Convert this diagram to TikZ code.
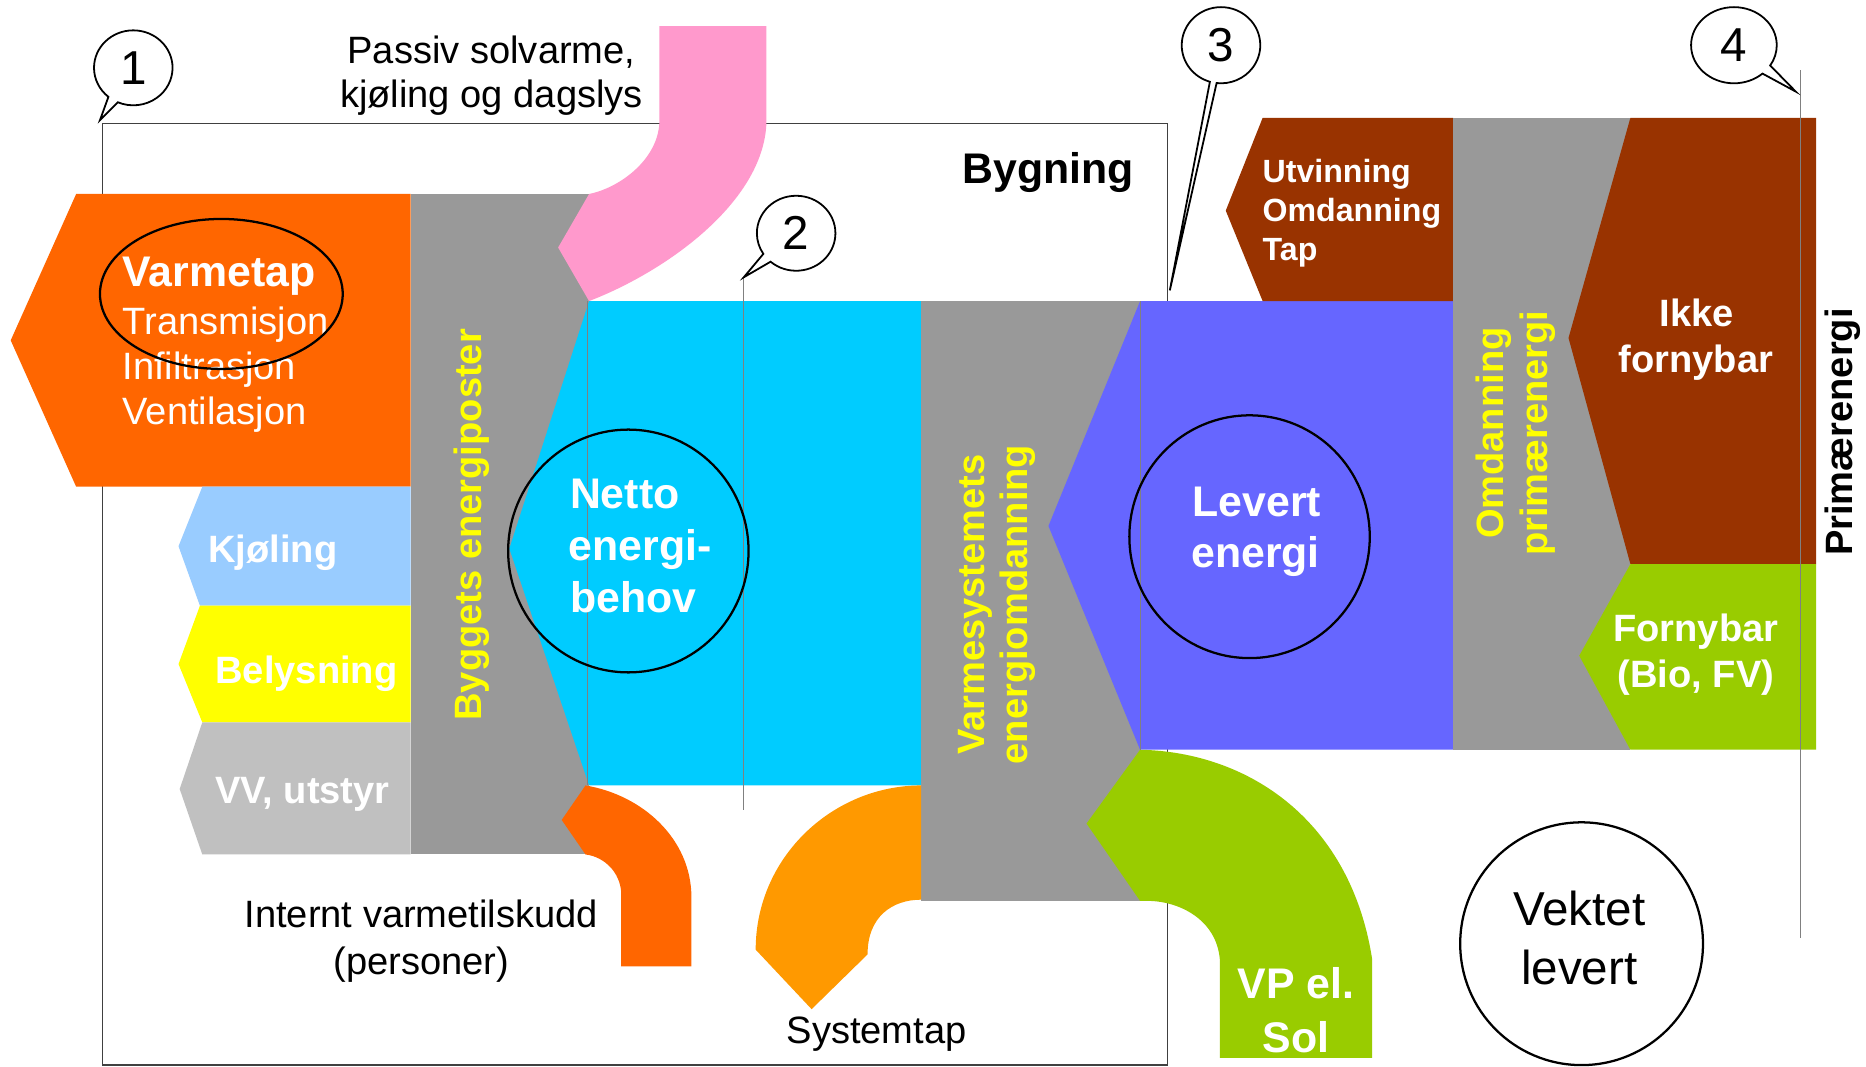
\documentclass[tikz,border=0pt]{standalone}
\usepackage{fontspec}
\setmainfont{Liberation Sans}
\usetikzlibrary{shapes.callouts,shapes.geometric}
\definecolor{cOrange}{HTML}{FF6600}
\definecolor{cGray}{HTML}{999999}
\definecolor{cPink}{HTML}{FF99CC}
\definecolor{cCyan}{HTML}{00CCFF}
\definecolor{cLBlue}{HTML}{99CCFF}
\definecolor{cYellow}{HTML}{FFFF00}
\definecolor{cLGray}{HTML}{C0C0C0}
\definecolor{cOrangeB}{HTML}{FF9900}
\definecolor{cBlue}{HTML}{6666FF}
\definecolor{cBrown}{HTML}{993300}
\definecolor{cGreen}{HTML}{99CC00}
\definecolor{cLine}{HTML}{404040}
\newcommand\myfs[1]{\fontsize{#1}{#1}\selectfont}
\tikzset{
  txt/.style={inner sep=0pt, outer sep=0pt},
  wbold/.style={txt, text=white, font=\bfseries\myfs{32}},
  wbig/.style={txt, text=white, font=\bfseries\myfs{36}},
  wreg/.style={txt, text=white, font=\myfs{32}},
  blk/.style={txt, text=black, font=\myfs{32}},
  ylw/.style={txt, text=cYellow, font=\bfseries\myfs{32}, rotate=90, anchor=base},
  ring/.style={ellipse, draw=black, line width=1.9pt, inner sep=0pt},
  bubble/.style={ellipse callout, draw=black, fill=white, line width=1.5pt, inner sep=0pt, font=\myfs{40}, callout pointer arc=16},
  thinline/.style={draw=gray, line width=0.8pt},
  boxline/.style={draw=cLine, line width=1.2pt},
}
\begin{document}
\begin{tikzpicture}[x=1pt,y=-1pt]
\useasboundingbox (0,0) rectangle (1568,896);
\fill[white] (0,0) rectangle (1568,896);

% building outline
\draw[boxline] (86,104) rectangle (981,895);

% heat loss and building energy items
\fill[cOrange] (345,163) -- (64,163) -- (9,286) -- (64,409) -- (345,409) -- cycle;
\fill[cLBlue] (345,409) -- (170,409) -- (150,459) -- (168,509) -- (345,509) -- cycle;
\fill[cYellow] (345,509) -- (168,509) -- (150,558) -- (170,607) -- (345,607) -- cycle;
\fill[cLGray] (345,607) -- (170,607) -- (151,663) -- (170,718) -- (345,718) -- cycle;
\fill[cGray] (345,163) rectangle (495,718);

% passive solar (pink)
\fill[cPink] (554,22) -- (644,22) -- (644,104) .. controls (641,170) and (560,228) .. (495,253)
  -- (469,208) -- (495,163) .. controls (520,158) and (552,135) .. (554,104) -- cycle;

% net energy (cyan)
\fill[cCyan] (495,253) -- (775,253) -- (775,660) -- (495,660) -- (428,461) -- cycle;

% internal gains (orange)
\fill[cOrange] (492,660) .. controls (540,668) and (581,705) .. (581,754) -- (581,812) -- (522,812)
  -- (522,750) .. controls (521,733) and (508,720) .. (492,718) -- (472,689) -- cycle;

% heating system column
\fill[cGray] (774,253) rectangle (958,757);

% system loss (orange)
\fill[cOrangeB] (774,660) .. controls (700,660) and (635,720) .. (635,798) -- (682,848) -- (729,802)
  .. controls (729,770) and (750,756) .. (774,756) -- cycle;

% delivered energy (blue)
\fill[cBlue] (958,253) -- (1221,253) -- (1221,630) -- (958,630) -- (881,442) -- cycle;

% heat pump / solar (green)
\fill[cGreen] (958,630) .. controls (1050,632) and (1135,690) .. (1153,806) -- (1153,889) -- (1025,889)
  -- (1025,806) .. controls (1022,772) and (990,757) .. (964,757) -- (958,757) -- (913,692) -- cycle;

% extraction (brown)
\fill[cBrown] (1061,99) -- (1221,99) -- (1221,253) -- (1061,253) -- (1030,177) -- cycle;

% primary energy column
\fill[cGray] (1221,99) rectangle (1370,630);
\fill[cBrown] (1370,99) -- (1526,99) -- (1526,474) -- (1370,474) -- (1318,284) -- cycle;
\fill[cGreen] (1370,474) -- (1526,474) -- (1526,630) -- (1370,630) -- (1327,551) -- cycle;

% thin lines
\coordinate (la1) at (494,253); \coordinate (la2) at (494,660);
\coordinate (lb1) at (958,253); \coordinate (lb2) at (958,630);
\coordinate (lc1) at (625,233); \coordinate (lc2) at (625,681);
\coordinate (ld1) at (1513,59); \coordinate (ld2) at (1513,788);
\draw[thinline] (la1) -- (la2);
\draw[thinline] (lb1) -- (lb2);
\draw[thinline] (lc1) -- (lc2);
\draw[thinline] (ld1) -- (ld2);

% texts
\node[blk, anchor=base] (ps1) at (413,53) {Passiv solvarme,};
\node[blk, anchor=base] (ps2) at (413,90) {kjøling og dagslys};

\node[wbig, anchor=base west] (vt1) at (103,241) {Varmetap};
\node[wreg, anchor=base west] (vt2) at (103,281) {Transmisjon};
\node[wreg, anchor=base west] (vt3) at (103,319) {Infiltrasjon};
\node[wreg, anchor=base west] (vt4) at (103,357) {Ventilasjon};

\node[wbold, anchor=base west] (kj) at (175,473) {Kjøling};
\node[wbold, anchor=base west] (be) at (181,574) {Belysning};
\node[wbold, anchor=base west] (vv) at (181,675) {VV, utstyr};

\node[ylw] (bep) at (405,441) {Byggets energiposter};

\node[wbig, anchor=base west] (ne1) at (479,427) {Netto};
\node[wbig, anchor=base west] (ne2) at (478,471) {energi-};
\node[wbig, anchor=base west] (ne3) at (479,515) {behov};

\node[txt, font=\bfseries\myfs{36}, anchor=base west] (byg) at (809,154) {Bygning};

\node[ylw] (vs1) at (827,508) {Varmesystemets};
\node[ylw] (vs2) at (863,508) {energiomdanning};

\node[wbig, anchor=base] (le1) at (1056,434) {Levert};
\node[wbig, anchor=base] (le2) at (1055,477) {energi};

\node[txt, text=white, font=\bfseries\myfs{27}, anchor=base west] (ut1) at (1061,153) {Utvinning};
\node[txt, text=white, font=\bfseries\myfs{27}, anchor=base west] (ut2) at (1061,186) {Omdanning};
\node[txt, text=white, font=\bfseries\myfs{27}, anchor=base west] (ut3) at (1061,219) {Tap};

\node[ylw] (om1) at (1263,364) {Omdanning};
\node[ylw] (om2) at (1300,364) {primærenergi};

\node[txt, text=black, font=\bfseries\myfs{32}, rotate=90, anchor=base] (pe) at (1557,363) {Primærenergi};

\node[wbold, anchor=base] (ik1) at (1426,274) {Ikke};
\node[wbold, anchor=base] (ik2) at (1425,313) {fornybar};
\node[wbold, anchor=base] (fo1) at (1425,539) {Fornybar};
\node[wbold, anchor=base] (fo2) at (1425,578) {(Bio, FV)};

\node[wbig, anchor=base] (vp1) at (1089,839) {VP el.};
\node[wbig, anchor=base] (vp2) at (1089,884) {Sol};

\node[txt, font=\myfs{40}, anchor=base] (vk1) at (1327,778) {Vektet};
\node[txt, font=\myfs{40}, anchor=base] (vk2) at (1327,827) {levert};

\node[blk, anchor=base] (in1) at (354,779) {Internt varmetilskudd};
\node[blk, anchor=base] (in2) at (354,819) {(personer)};

\node[blk, anchor=base west] (sy) at (661,877) {Systemtap};

% rings
\node[ring, minimum width=204pt, minimum height=126pt] (e1) at (186,247) {};
\node[ring, minimum width=202pt, minimum height=204pt] (e2) at (528,463) {};
\node[ring, minimum width=202pt, minimum height=204pt] (e3) at (1050,451) {};
\node[ring, minimum width=204pt, minimum height=204pt] (e4) at (1329,793) {};

% numbered callouts
\node[bubble, minimum width=66pt, minimum height=63pt, callout absolute pointer={(84,101)}] (c1) at (112,57) {1};
\node[bubble, minimum width=66pt, minimum height=63pt, callout absolute pointer={(625,233)}] (c2) at (669,196) {2};
\node[bubble, minimum width=66pt, minimum height=64pt, callout absolute pointer={(983,244)}, callout pointer arc=10] (c3) at (1026,38) {3};
\node[bubble, minimum width=72pt, minimum height=64pt, callout absolute pointer={(1509,77)}] (c4) at (1457,38) {4};
\end{tikzpicture}
\end{document}
